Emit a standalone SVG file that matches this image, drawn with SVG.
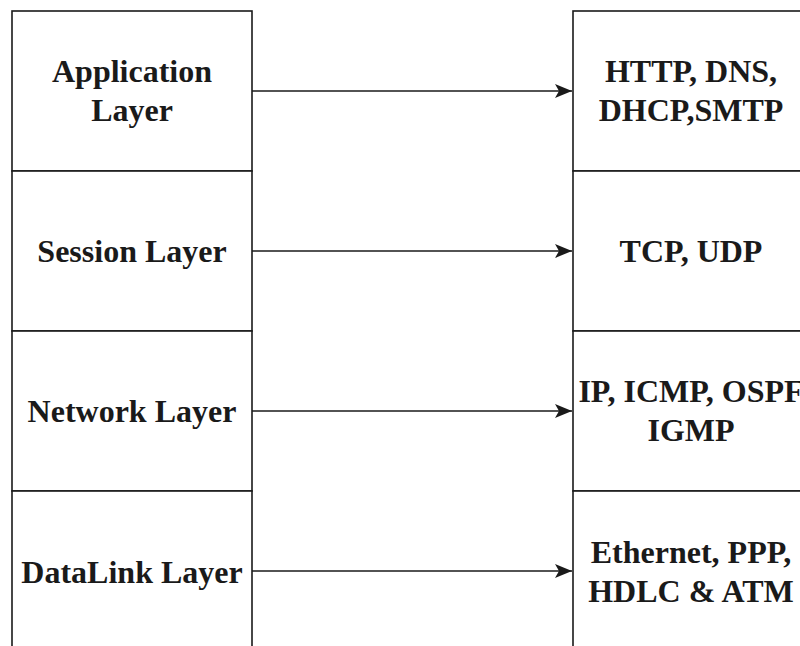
<svg xmlns="http://www.w3.org/2000/svg" width="800" height="646" viewBox="0 0 800 646">
<style>
.box{fill:#ffffff;stroke:#1a1a1a;stroke-width:1.6}
.lbl{font-family:"Liberation Serif","Times New Roman",serif;font-weight:bold;font-size:32px;fill:#1a1a1a;text-anchor:middle}
.conn{stroke:#1a1a1a;stroke-width:1.6;fill:none}
</style>
<defs>
<marker id="arr" markerUnits="userSpaceOnUse" markerWidth="20" markerHeight="16" refX="17" refY="7" orient="auto">
<path d="M0,0 L17,7 L0,14 L4,7 Z" fill="#1a1a1a"/>
</marker>
</defs>
<rect width="800" height="646" fill="#ffffff"/>
<g id="app-layer"><rect class="box" x="12" y="11" width="240" height="160"/><text class="lbl" x="132" y="82">Application</text><text class="lbl" x="132" y="121">Layer</text></g>
<g id="session-layer"><rect class="box" x="12" y="171" width="240" height="160"/><text class="lbl" x="132" y="262">Session Layer</text></g>
<g id="network-layer"><rect class="box" x="12" y="331" width="240" height="160"/><text class="lbl" x="132" y="422">Network Layer</text></g>
<g id="datalink-layer"><rect class="box" x="12" y="491" width="240" height="160"/><text class="lbl" x="132" y="583">DataLink Layer</text></g>
<g id="app-protocols"><rect class="box" x="573" y="11" width="240" height="160"/><text class="lbl" x="691" y="82">HTTP, DNS,</text><text class="lbl" x="691" y="121">DHCP,SMTP</text></g>
<g id="transport-protocols"><rect class="box" x="573" y="171" width="240" height="160"/><text class="lbl" x="691" y="262">TCP, UDP</text></g>
<g id="network-protocols"><rect class="box" x="573" y="331" width="240" height="160"/><text class="lbl" x="691" y="402">IP, ICMP, OSPF</text><text class="lbl" x="691" y="441">IGMP</text></g>
<g id="datalink-protocols"><rect class="box" x="573" y="491" width="240" height="160"/><text class="lbl" x="691" y="563">Ethernet, PPP,</text><text class="lbl" x="691" y="602">HDLC &amp; ATM</text></g>
<g id="connectors">
<line class="conn" x1="252" y1="91" x2="572" y2="91" marker-end="url(#arr)"/>
<line class="conn" x1="252" y1="251" x2="572" y2="251" marker-end="url(#arr)"/>
<line class="conn" x1="252" y1="411" x2="572" y2="411" marker-end="url(#arr)"/>
<line class="conn" x1="252" y1="571" x2="572" y2="571" marker-end="url(#arr)"/>
</g>
</svg>
